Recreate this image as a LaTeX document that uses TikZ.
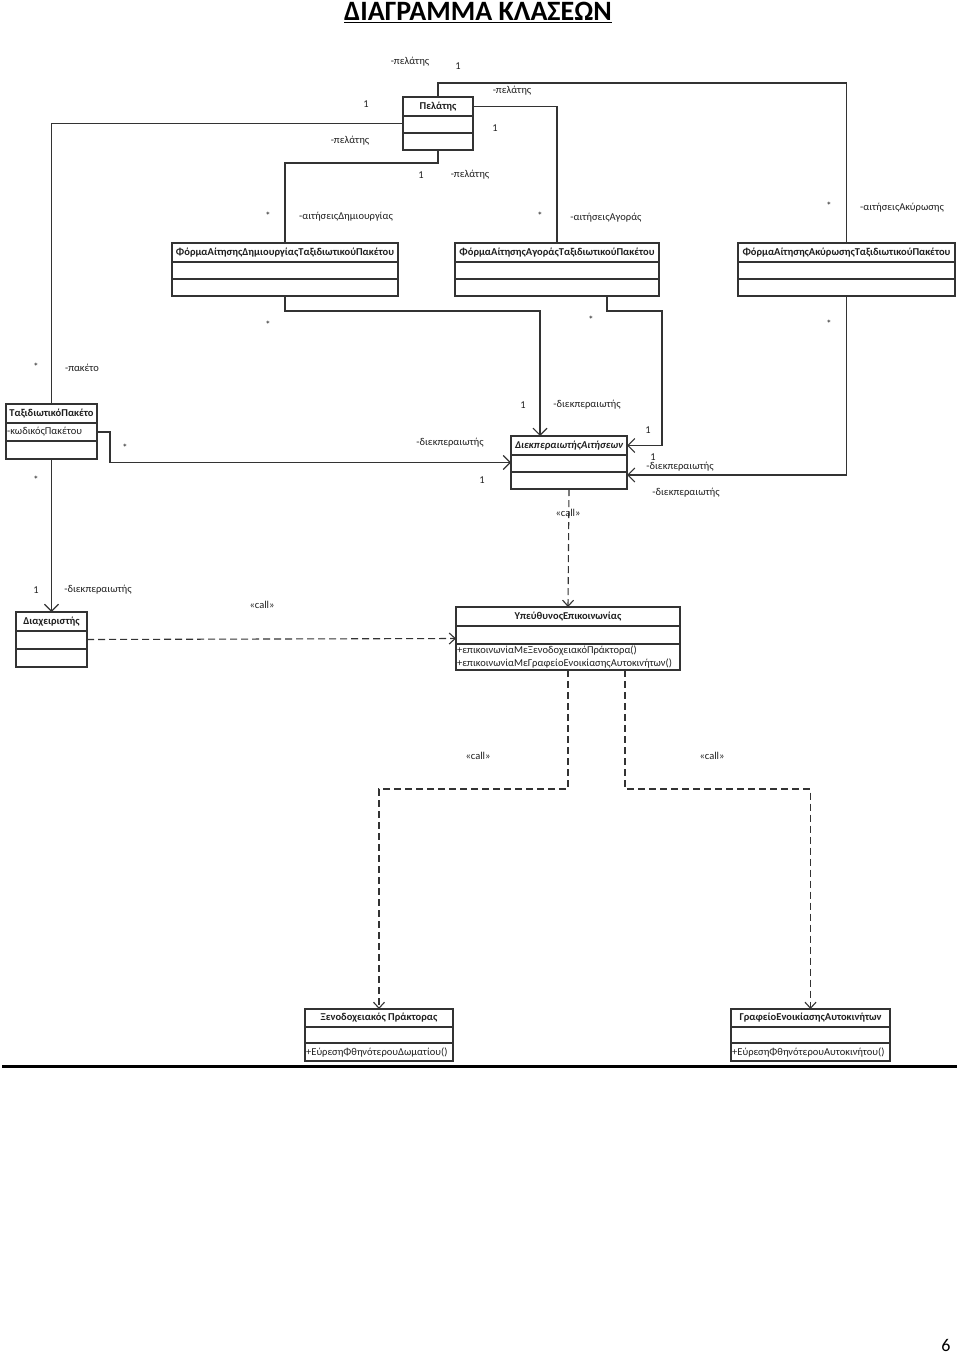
\documentclass[tikz,border=0pt]{standalone}
\usepackage{fontspec}
\setmainfont{Carlito}
\usetikzlibrary{arrows.meta,calc}
\definecolor{txtc}{gray}{0.12}
\definecolor{linec}{gray}{0.2}
\tikzset{
  clsbox/.style={draw=linec, line width=1.1pt, fill=white, inner sep=0pt, outer sep=0pt, anchor=north west},
  clstitle/.style={font=\fontsize{10.5}{12}\selectfont\bfseries, text=txtc, inner sep=0pt},
  rowtxt/.style={font=\fontsize{10.5}{12}\selectfont, text=txtc, inner sep=0pt, anchor=west},
  lbl/.style={font=\fontsize{10.5}{12}\selectfont, text=txtc, inner sep=0pt},
  plainln/.style={draw=linec, line width=1.1pt},
  assoc/.style={draw=linec, line width=1.1pt, -{Straight Barb[length=7pt,width=14pt]}},
  depline/.style={draw=linec, line width=1.1pt, dash pattern=on 7pt off 4pt, -{Straight Barb[length=6pt,width=11pt]}}
}
\newcommand\umlclass[8]{%
  \node[clsbox, minimum width=#4pt, minimum height={(#5+#6+#7)*1pt}] (#1) at (#2,#3) {};
  \draw[plainln] ($(#1.north west)+(0,#5)$) -- ($(#1.north east)+(0,#5)$);
  \draw[plainln] ($(#1.north west)+(0,#5+#6)$) -- ($(#1.north east)+(0,#5+#6)$);
  \node[clstitle] (#1-t) at ($(#1.north)+(0,#5/2)$) {#8};
}
\newcommand\lbl[4]{\node[lbl] (#1) at (#2,#3) {#4};}
\begin{document}
\begin{tikzpicture}[x=1pt,y=-1pt]
\useasboundingbox (0,0) rectangle (960,1354);

% title and page number
\node[font=\fontsize{28}{32}\selectfont\bfseries, text=black, inner sep=0pt, anchor=base] (title) at (478,21) {\underline{ΔΙΑΓΡΑΜΜΑ ΚΛΑΣΕΩΝ}};
\node[font=\fontsize{18}{20}\selectfont, text=black, inner sep=0pt, anchor=base] (pageno) at (946,1351) {6};

% classes
\umlclass{pel}{403}{97}{70}{19}{17}{17}{Πελάτης}
\umlclass{fdim}{172}{243}{226}{19}{17}{17}{ΦόρμαΑίτησηςΔημιουργίαςΤαξιδιωτικούΠακέτου}
\umlclass{fago}{455}{243}{204}{19}{17}{17}{ΦόρμαΑίτησηςΑγοράςΤαξιδιωτικούΠακέτου}
\umlclass{faky}{738}{243}{217}{19}{17}{17}{ΦόρμαΑίτησηςΑκύρωσηςΤαξιδιωτικούΠακέτου}
\umlclass{tp}{6}{404}{91}{19}{18}{18}{ΤαξιδιωτικόΠακέτο}
\node[rowtxt] (tp-r2) at ($(tp.north west)+(1,28)$) {-κωδικόςΠακέτου};
\umlclass{diek}{511}{436}{116}{19}{17}{17}{\itshape ΔιεκπεραιωτήςΑιτήσεων}
\umlclass{diax}{16}{612}{71}{19}{18}{18}{Διαχειριστής}
\umlclass{ypeu}{456}{607}{224}{19}{18}{26}{ΥπεύθυνοςΕπικοινωνίας}
\node[rowtxt] (ypeu-m1) at ($(ypeu.north west)+(1,44)$) {+επικοινωνίαΜεΞενοδοχειακόΠράκτορα()};
\node[rowtxt] (ypeu-m2) at ($(ypeu.north west)+(1,56.5)$) {+επικοινωνίαΜεΓραφείοΕνοικίασηςΑυτοκινήτων()};
\umlclass{xen}{305}{1009}{148}{18}{16}{18}{Ξενοδοχειακός Πράκτορας}
\node[rowtxt] (xen-m1) at ($(xen.north west)+(1,43)$) {+ΕύρεσηΦθηνότερουΔωματίου()};
\umlclass{graf}{731}{1009}{159}{18}{16}{18}{ΓραφείοΕνοικίασηςΑυτοκινήτων}
\node[rowtxt] (graf-m1) at ($(graf.north west)+(1,43)$) {+ΕύρεσηΦθηνότερουΑυτοκινήτου()};

% associations from Πελάτης
\draw[plainln] (pel.north) -- ++(0,-14) -| (faky.north);
\draw[plainln] (pel.east |- pel-t) -| (fago.north);
\draw[plainln] (pel.west) -| (tp.north);
\draw[plainln] (pel.south) -- ++(0,13) -| (fdim.north);

% forms to ΔιεκπεραιωτήςΑιτήσεων
\coordinate (dtop) at ($(diek.north)+(-29,0)$);
\draw[assoc] (fdim.south) -- ++(0,15) -| (dtop);
\coordinate (fagob) at ($(fago.south)+(50,0)$);
\coordinate (dright) at (diek.east |- diek-t);
\coordinate (dcorner) at ($(dright)+(35,0)$);
\draw[assoc] (fagob) -- ++(0,15) -| (dcorner) -- (dright);
\coordinate (dright2) at ($(diek.east)+(0,12.5)$);
\draw[assoc] (faky.south) |- (dright2);

% ΤαξιδιωτικόΠακέτο links
\draw[assoc] (tp.east |- tp-r2) -- ++(13,0) |- (diek.west);
\draw[assoc] (tp.south) -- (diax.north);

% dependencies
\draw[depline] (diek.south) -- (ypeu.north);
\draw[depline] (diax.east) -- (ypeu.west);
\draw[depline] (ypeu.south) -- ++(0,119) -| (xen.north);
\coordinate (ypr) at ($(ypeu.south)+(57,0)$);
\draw[depline] (ypr) -- ++(0,119) -| (graf.north);

% bottom rule
\draw[line width=3pt, black] (2,1066) coordinate (rulel) -- (957,1066) coordinate (ruler);

% labels
\lbl{l1}{410}{62}{-πελάτης}
\lbl{l2}{458}{66}{1}
\lbl{l3}{512}{91}{-πελάτης}
\lbl{l4}{495}{128}{1}
\lbl{l5}{366}{104}{1}
\lbl{l6}{350}{141}{-πελάτης}
\lbl{l7}{421}{175}{1}
\lbl{l8}{470}{175}{-πελάτης}
\lbl{l9}{268}{216}{*}
\lbl{l10}{346}{217}{-αιτήσειςΔημιουργίας}
\lbl{l11}{540}{216}{*}
\lbl{l12}{606}{218}{-αιτήσειςΑγοράς}
\lbl{l13}{829}{206}{*}
\lbl{l14}{902}{208}{-αιτήσειςΑκύρωσης}
\lbl{l15}{268}{325}{*}
\lbl{l16}{591}{320}{*}
\lbl{l17}{829}{324}{*}
\lbl{l18}{36}{367}{*}
\lbl{l19}{82}{368}{-πακέτο}
\lbl{l20}{523}{405}{1}
\lbl{l21}{587}{405}{-διεκπεραιωτής}
\lbl{l22}{648}{430}{1}
\lbl{l23}{125}{448}{*}
\lbl{l24}{450}{443}{-διεκπεραιωτής}
\lbl{l25}{653}{457}{1}
\lbl{l26}{680}{467}{-διεκπεραιωτής}
\lbl{l27}{482}{480}{1}
\lbl{l28}{686}{493}{-διεκπεραιωτής}
\lbl{l29}{568}{513}{«call»}
\lbl{l30}{36}{480}{*}
\lbl{l31}{36}{590}{1}
\lbl{l32}{98}{590}{-διεκπεραιωτής}
\lbl{l33}{262}{605}{«call»}
\lbl{l34}{478}{756}{«call»}
\lbl{l35}{712}{756}{«call»}
\end{tikzpicture}
\end{document}
